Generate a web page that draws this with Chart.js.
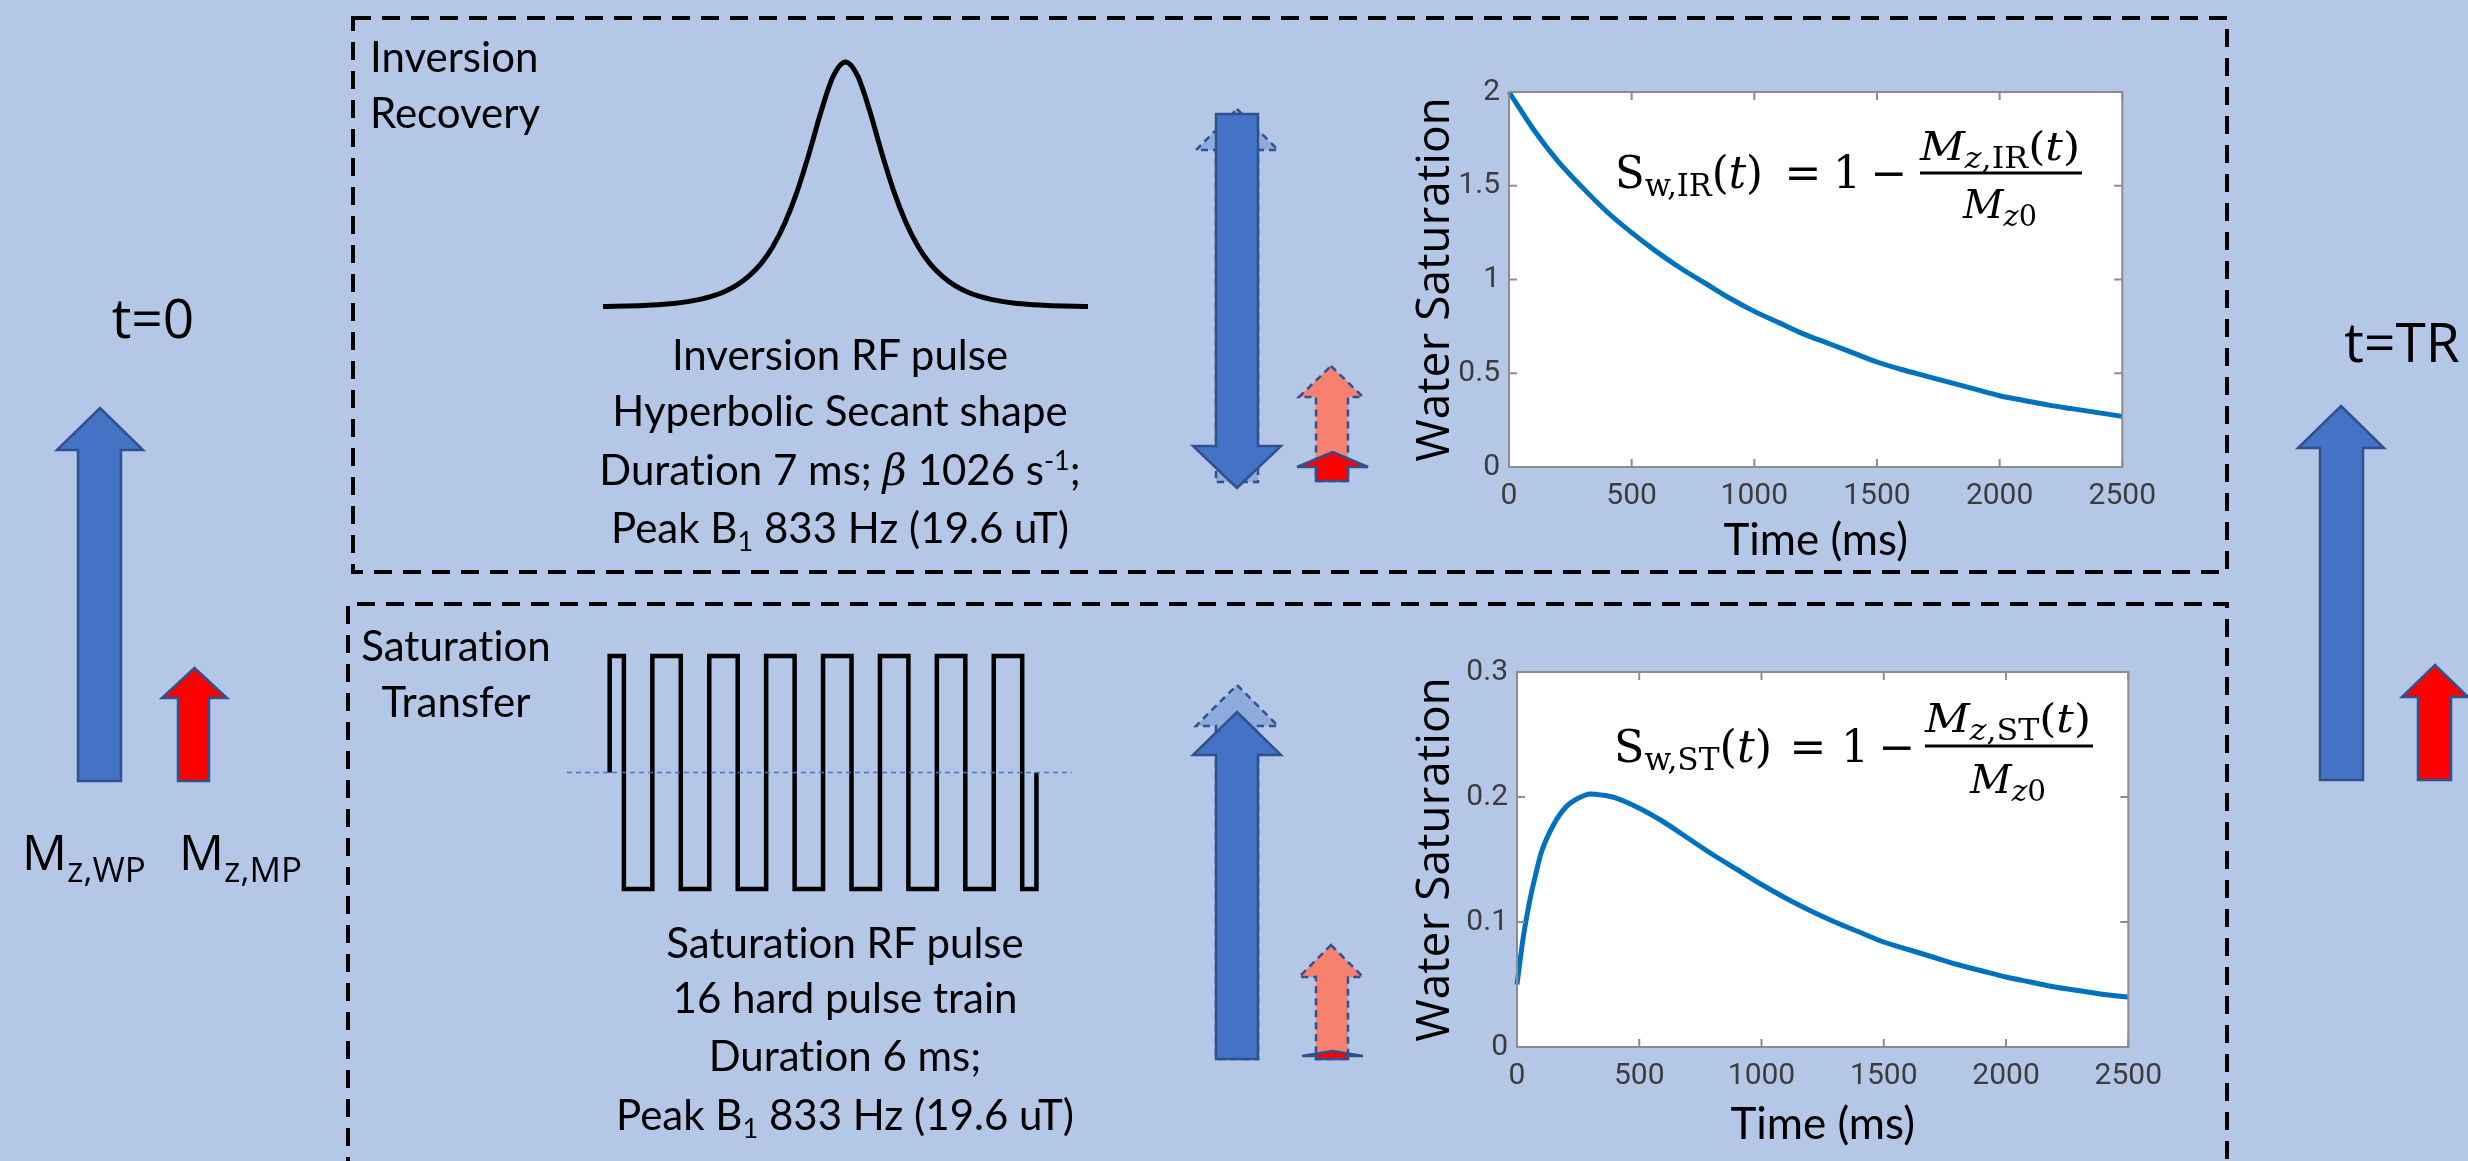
<!DOCTYPE html>
<html>
<head>
<meta charset="utf-8">
<script src="https://cdn.jsdelivr.net/npm/chart.js@4.4.1/dist/chart.umd.min.js"></script>
<style>
  html, body { margin: 0; padding: 0; background: #b4c7e7; }
  #page { position: relative; width: 2468px; height: 1161px; overflow: hidden; background: #b4c7e7; }
  canvas { position: absolute; }
  #overlay { position: absolute; left: 0; top: 0; }
  .cal { font-family: Lato, sans-serif; font-size: 42px; fill: #000; font-variant-ligatures: none; }
  .gth { font-family: "Open Sans", sans-serif; fill: #000; }
  .eq { font-family: "DejaVu Serif", serif; font-size: 44px; fill: #000; }
  .frac { font-family: "DejaVu Serif", serif; font-size: 40px; fill: #000; }
</style>
</head>
<body>
<div id="page">
  <canvas id="sechPulse" width="501" height="261" style="left:595px;top:54px"></canvas>
  <canvas id="hardTrain" width="521" height="249" style="left:559px;top:648px"></canvas>
  <canvas id="irChart" width="767" height="520" style="left:1400px;top:60px"></canvas>
  <canvas id="stChart" width="765" height="520" style="left:1408px;top:640px"></canvas>

  <svg id="overlay" width="2468" height="1161" xmlns="http://www.w3.org/2000/svg">
    <g id="boxes" fill="none" stroke="#000" stroke-width="4" stroke-dasharray="18 11">
      <rect x="353" y="18" width="1874" height="554"/>
      <path d="M348 1175 V604 H2227 V1175"/>
    </g>
    <g id="arrows"></g>

    <!-- left / right labels -->
    <text class="gth" x="153" y="338" font-size="55" text-anchor="middle">t=0</text>
    <text class="gth" x="2402" y="362" font-size="55" text-anchor="middle">t=TR</text>
    <text class="gth" x="22" y="870" font-size="50">M<tspan font-size="35" dy="12">z,WP</tspan></text>
    <text class="gth" x="179" y="870" font-size="50">M<tspan font-size="35" dy="12">z,MP</tspan></text>

    <!-- box titles -->
    <text class="cal" x="370" y="72">Inversion</text>
    <text class="cal" x="370" y="128">Recovery</text>
    <text class="cal" x="456" y="661" text-anchor="middle">Saturation</text>
    <text class="cal" x="456" y="717" text-anchor="middle">Transfer</text>

    <!-- pulse descriptions -->
    <text class="cal" x="840" y="370" text-anchor="middle">Inversion RF pulse</text>
    <text class="cal" x="840" y="426" text-anchor="middle">Hyperbolic Secant shape</text>
    <text class="cal" x="840" y="485" text-anchor="middle">Duration 7 ms; <tspan font-family="DejaVu Serif" font-style="italic">β</tspan> 1026 s<tspan font-size="27" dy="-15">-1</tspan><tspan dy="15">;</tspan></text>
    <text class="cal" x="840" y="543" text-anchor="middle">Peak B<tspan font-size="27" dy="8">1</tspan><tspan dy="-8"> 833 Hz (19.6 uT)</tspan></text>

    <text class="cal" x="845" y="958" text-anchor="middle">Saturation RF pulse</text>
    <text class="cal" x="845" y="1013" text-anchor="middle">16 hard pulse train</text>
    <text class="cal" x="845" y="1071" text-anchor="middle">Duration 6 ms;</text>
    <text class="cal" x="845" y="1130" text-anchor="middle">Peak B<tspan font-size="27" dy="8">1</tspan><tspan dy="-8"> 833 Hz (19.6 uT)</tspan></text>

    <!-- equation, inversion recovery -->
    <text class="eq" x="1615" y="188" textLength="148" lengthAdjust="spacingAndGlyphs">S<tspan font-size="31" dy="8">w,IR</tspan><tspan dy="-8">(</tspan><tspan font-style="italic">t</tspan>)</text>
    <text class="eq" x="1803" y="188" text-anchor="middle">=</text>
    <text class="eq" x="1847" y="188" text-anchor="middle">1</text>
    <text class="eq" x="1889" y="188" text-anchor="middle">−</text>
    <text class="frac" x="1920" y="160" textLength="160" lengthAdjust="spacingAndGlyphs"><tspan font-style="italic">M</tspan><tspan font-size="29" dy="8" font-style="italic">z</tspan><tspan font-size="29">,IR</tspan><tspan dy="-8">(</tspan><tspan font-style="italic">t</tspan>)</text>
    <line x1="1920" x2="2082" y1="173" y2="173" stroke="#000" stroke-width="3"/>
    <text class="frac" x="1963" y="218" textLength="74" lengthAdjust="spacingAndGlyphs"><tspan font-style="italic">M</tspan><tspan font-size="29" dy="8" font-style="italic">z</tspan><tspan font-size="29">0</tspan></text>

    <!-- equation, saturation transfer -->
    <text class="eq" x="1614" y="762" textLength="158" lengthAdjust="spacingAndGlyphs">S<tspan font-size="31" dy="8">w,ST</tspan><tspan dy="-8">(</tspan><tspan font-style="italic">t</tspan>)</text>
    <text class="eq" x="1808" y="762" text-anchor="middle">=</text>
    <text class="eq" x="1855" y="762" text-anchor="middle">1</text>
    <text class="eq" x="1897" y="762" text-anchor="middle">−</text>
    <text class="frac" x="1925" y="732" textLength="166" lengthAdjust="spacingAndGlyphs"><tspan font-style="italic">M</tspan><tspan font-size="29" dy="8" font-style="italic">z</tspan><tspan font-size="29">,ST</tspan><tspan dy="-8">(</tspan><tspan font-style="italic">t</tspan>)</text>
    <line x1="1925" x2="2093" y1="746" y2="746" stroke="#000" stroke-width="3"/>
    <text class="frac" x="1970" y="793" textLength="76" lengthAdjust="spacingAndGlyphs"><tspan font-style="italic">M</tspan><tspan font-size="29" dy="8" font-style="italic">z</tspan><tspan font-size="29">0</tspan></text>
  </svg>
</div>

<script>
// time axis shared by both saturation plots (ms)
const timeTicks = [0, 500, 1000, 1500, 2000, 2500];

// inversion recovery: water saturation vs time
const irTime = [0, 100, 200, 300, 400, 500, 600, 700, 800, 900, 1000, 1100, 1200,
                1300, 1400, 1500, 1600, 1700, 1800, 1900, 2000, 2100, 2200, 2300, 2400, 2500];
const irSat = [2.00, 1.80, 1.63, 1.49, 1.36, 1.25, 1.15, 1.06, 0.98, 0.90, 0.83, 0.77, 0.71,
               0.66, 0.61, 0.56, 0.52, 0.485, 0.45, 0.415, 0.38, 0.355, 0.33, 0.31, 0.29, 0.27];
const irSatTicks = [0, 0.5, 1, 1.5, 2];

// saturation transfer: water saturation vs time
const stTime = [0, 25, 50, 75, 100, 150, 200, 250, 300, 350, 400, 500, 600, 700, 800, 900, 1000,
                1100, 1200, 1300, 1400, 1500, 1600, 1700, 1800, 1900, 2000, 2100, 2200, 2300, 2400, 2500];
const stSat = [0.050, 0.087, 0.115, 0.137, 0.156, 0.178, 0.192, 0.199, 0.2025, 0.2015, 0.1995, 0.191,
               0.180, 0.167, 0.154, 0.142, 0.130, 0.119, 0.109, 0.100, 0.092, 0.084, 0.078, 0.072,
               0.066, 0.061, 0.056, 0.052, 0.048, 0.045, 0.042, 0.040];
const stSatTicks = [0, 0.1, 0.2, 0.3];

// hyperbolic secant RF pulse shape (normalised time, normalised B1)
const sechPos = [-1, -0.95, -0.9, -0.85, -0.8, -0.75, -0.7, -0.65, -0.6, -0.55, -0.5, -0.45, -0.4,
                 -0.35, -0.3, -0.25, -0.2, -0.15, -0.1, -0.05, 0, 0.05, 0.1, 0.15, 0.2, 0.25, 0.3,
                 0.35, 0.4, 0.45, 0.5, 0.55, 0.6, 0.65, 0.7, 0.75, 0.8, 0.85, 0.9, 0.95, 1];
const sechAmp = [0.002, 0.0028, 0.0039, 0.0055, 0.0078, 0.011, 0.0156, 0.022, 0.031, 0.044, 0.0625,
                 0.088, 0.125, 0.175, 0.246, 0.343, 0.47, 0.627, 0.80, 0.943, 1, 0.943, 0.80, 0.627,
                 0.47, 0.343, 0.246, 0.175, 0.125, 0.088, 0.0625, 0.044, 0.031, 0.022, 0.0156, 0.011,
                 0.0078, 0.0055, 0.0039, 0.0028, 0.002];

// 16 hard pulse train (ms, level switches to +1 / -1), drawn as a stepped line
const trainTime = [0, 0, 0.2, 0.6, 1.0, 1.4, 1.8, 2.2, 2.6, 3.0, 3.4, 3.8, 4.2, 4.6, 5.0, 5.4, 5.8, 6.0];
const trainLevel = [0, 1, -1, 1, -1, 1, -1, 1, -1, 1, -1, 1, -1, 1, -1, 1, -1, 0];
const trainZero = [-0.6, 6.5];

const pts = (xs, ys) => xs.map((x, i) => ({ x: x, y: ys[i] }));

// white plot area plus a matlab style box with inward ticks
const plotBox = {
  id: 'plotBox',
  beforeDraw(chart) {
    const { ctx, chartArea: a } = chart;
    ctx.save();
    ctx.fillStyle = '#ffffff';
    ctx.fillRect(a.left, a.top, a.width, a.height);
    ctx.restore();
  },
  afterDraw(chart) {
    const { ctx, chartArea: a, scales } = chart;
    ctx.save();
    ctx.strokeStyle = '#8c8c8c';
    ctx.lineWidth = 2;
    ctx.strokeRect(a.left, a.top, a.width, a.height);
    ctx.beginPath();
    scales.x.ticks.forEach(t => {
      const px = scales.x.getPixelForValue(t.value);
      ctx.moveTo(px, a.bottom); ctx.lineTo(px, a.bottom - 8);
      ctx.moveTo(px, a.top); ctx.lineTo(px, a.top + 8);
    });
    scales.y.ticks.forEach(t => {
      const py = scales.y.getPixelForValue(t.value);
      ctx.moveTo(a.left, py); ctx.lineTo(a.left + 8, py);
      ctx.moveTo(a.right, py); ctx.lineTo(a.right - 8, py);
    });
    ctx.stroke();
    ctx.restore();
  }
};

const tickFont = { family: 'Roboto', size: 30 };

function satChart(id, times, sat, yTicks, yTitlePad, xTitlePad) {
  return new Chart(document.getElementById(id), {
    type: 'line',
    data: {
      datasets: [{
        data: pts(times, sat),
        borderColor: '#0072bd',
        borderWidth: 5,
        pointRadius: 0,
        cubicInterpolationMode: 'monotone',
        clip: false
      }]
    },
    options: {
      responsive: false,
      animation: false,
      devicePixelRatio: 1,
      events: [],
      layout: { padding: { top: 32, right: 40, bottom: 3, left: 0 } },
      plugins: { legend: { display: false }, tooltip: { enabled: false } },
      scales: {
        x: {
          type: 'linear',
          min: timeTicks[0],
          max: timeTicks[timeTicks.length - 1],
          afterBuildTicks: s => { s.ticks = timeTicks.map(v => ({ value: v })); },
          afterFit: s => { s.height = 110; },
          grid: { display: false, drawTicks: false },
          border: { display: false },
          ticks: { font: tickFont, color: '#3c3c3c', padding: 11, maxRotation: 0, autoSkip: false,
                   callback: v => String(v) },
          title: { display: true, text: 'Time (ms)', color: '#000',
                   font: { family: 'Lato', size: 44 }, padding: { top: 0, bottom: xTitlePad } }
        },
        y: {
          type: 'linear',
          min: yTicks[0],
          max: yTicks[yTicks.length - 1],
          afterBuildTicks: s => { s.ticks = yTicks.map(v => ({ value: v })); },
          afterFit: s => { s.width = 109; },
          grid: { display: false, drawTicks: false },
          border: { display: false },
          ticks: { font: tickFont, color: '#3c3c3c', padding: 9, callback: v => String(v) },
          title: { display: true, text: 'Water Saturation', color: '#000',
                   font: { family: 'Open Sans', size: 46 }, padding: { top: yTitlePad, bottom: 0 } }
        }
      }
    },
    plugins: [plotBox]
  });
}

function shapeChart(id, datasets, xMin, xMax, yMin, yMax) {
  return new Chart(document.getElementById(id), {
    type: 'line',
    data: { datasets: datasets },
    options: {
      responsive: false,
      animation: false,
      devicePixelRatio: 1,
      events: [],
      layout: { padding: 8 },
      plugins: { legend: { display: false }, tooltip: { enabled: false } },
      scales: {
        x: { type: 'linear', display: false, min: xMin, max: xMax },
        y: { type: 'linear', display: false, min: yMin, max: yMax }
      }
    }
  });
}

satChart('irChart', irTime, irSat, irSatTicks, 8.4, 9.6);
satChart('stChart', stTime, stSat, stSatTicks, 0.4, 5.6);

shapeChart('sechPulse', [{
  data: pts(sechPos, sechAmp),
  borderColor: '#000', borderWidth: 5, pointRadius: 0,
  cubicInterpolationMode: 'monotone', clip: false
}], -1, 1, 0, 1);

shapeChart('hardTrain', [{
  data: pts(trainZero, [0, 0]),
  borderColor: '#4472c4', borderWidth: 1.5, borderDash: [5, 4], pointRadius: 0, clip: false
}, {
  data: pts(trainTime, trainLevel),
  borderColor: '#000', borderWidth: 4.5, pointRadius: 0, stepped: true,
  borderJoinStyle: 'miter', borderCapStyle: 'butt', clip: false
}], -0.6, 6.5, -1, 1);

// block arrows (magnetisation vectors)
const NS = 'http://www.w3.org/2000/svg';
const arrowLayer = document.getElementById('arrows');
const solidBlue = { fill: '#4472c4', stroke: '#2f528f', dash: null };
const solidRed = { fill: '#ff0000', stroke: '#2f528f', dash: null };
const ghostBlue = { fill: '#8faadc', stroke: '#2f528f', dash: '7 5' };
const ghostRed = { fill: '#f8806f', stroke: '#2f528f', dash: '7 5' };

function addPoly(points, st) {
  const p = document.createElementNS(NS, 'polygon');
  p.setAttribute('points', points);
  p.setAttribute('fill', st.fill);
  p.setAttribute('stroke', st.stroke);
  p.setAttribute('stroke-width', '2.5');
  p.setAttribute('stroke-linejoin', 'miter');
  if (st.dash) p.setAttribute('stroke-dasharray', st.dash);
  arrowLayer.appendChild(p);
}
function upArrow(s1, s2, h1, h2, tip, base, bot, st) {
  const c = (h1 + h2) / 2;
  addPoly(`${c},${tip} ${h2},${base} ${s2},${base} ${s2},${bot} ${s1},${bot} ${s1},${base} ${h1},${base}`, st);
}
function downArrow(s1, s2, h1, h2, top, base, tip, st) {
  const c = (h1 + h2) / 2;
  addPoly(`${s1},${top} ${s2},${top} ${s2},${base} ${h2},${base} ${c},${tip} ${h1},${base} ${s1},${base}`, st);
}

// t = 0
upArrow(78, 121, 57, 143, 408, 450, 781, solidBlue);
upArrow(178, 209, 162, 227, 668, 698, 781, solidRed);
// t = TR
upArrow(2320, 2363, 2298, 2384, 406, 448, 780, solidBlue);
upArrow(2418, 2451, 2402, 2468, 665, 697, 780, solidRed);
// after inversion
upArrow(1216, 1258, 1196, 1278, 109, 150, 482, ghostBlue);
downArrow(1216, 1258, 1193, 1281, 114, 446, 488, solidBlue);
upArrow(1316, 1348, 1299, 1363, 366, 397, 481, ghostRed);
upArrow(1316, 1348, 1297, 1368, 452, 467, 481, solidRed);
// after saturation
upArrow(1216, 1258, 1196, 1278, 685, 726, 1059, ghostBlue);
upArrow(1216, 1258, 1193, 1281, 712, 755, 1059, solidBlue);
upArrow(1316, 1348, 1299, 1363, 945, 977, 1059, ghostRed);
upArrow(1316, 1348, 1302, 1363, 1051, 1056, 1059, solidRed);
</script>
</body>
</html>
